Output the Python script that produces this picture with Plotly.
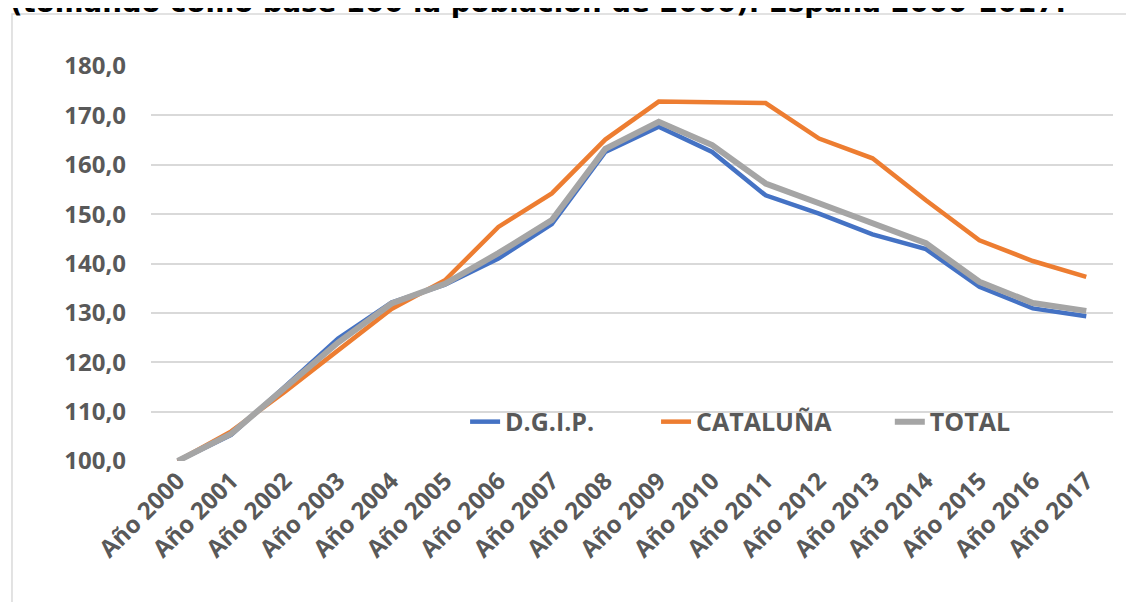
import plotly.graph_objects as go

# Datos (indice base 100 = 2000)
years = ["Año 2000", "Año 2001", "Año 2002", "Año 2003", "Año 2004", "Año 2005",
         "Año 2006", "Año 2007", "Año 2008", "Año 2009", "Año 2010", "Año 2011",
         "Año 2012", "Año 2013", "Año 2014", "Año 2015", "Año 2016", "Año 2017"]

dgip = [100.0, 105.3, 115.0, 124.8, 132.1, 135.7, 141.0, 148.0, 162.6, 167.7,
        162.6, 153.8, 150.1, 145.9, 142.9, 135.3, 130.9, 129.3]
cataluna = [100.0, 106.0, 114.0, 122.3, 130.8, 136.6, 147.4, 154.2, 165.1, 172.8,
            172.7, 172.5, 165.3, 161.3, 152.8, 144.7, 140.5, 137.3]
total = [100.0, 105.5, 114.8, 124.0, 131.9, 135.9, 142.1, 148.8, 163.2, 168.7,
         164.0, 156.2, 152.2, 148.1, 144.1, 136.3, 132.0, 130.4]

series_names = ["D.G.I.P.", "CATALUÑA", "TOTAL"]
series_colors = ["#4472C4", "#ED7D31", "#A5A5A5"]

y_ticks = [100, 110, 120, 130, 140, 150, 160, 170, 180]

title_text = "(tomando como base 100 la población de 2000). España 2000-2017."

txt_color = "#595959"
font_family = "Open Sans"
label_font = dict(family=font_family, size=24, color=txt_color, weight="bold")

fig = go.Figure()

#Each series gets its own legend so the entries can be spaced like the original
legend_ids = ["legend", "legend2", "legend3"]
legend_x = [0.3265, 0.525, 0.768]

for name, vals, col, w, lg in zip(series_names, [dgip, cataluna, total],
                                  series_colors, [4.5, 4.5, 6], legend_ids):
    fig.add_trace(go.Scatter(
        x=years, y=vals, mode="lines", name=name,
        line=dict(color=col, width=w), legend=lg,
    ))

#Outer chart border (cropped at right and bottom in the original)
fig.add_shape(
    type="rect", xref="paper", yref="paper",
    x0=-0.1445, x1=1.03, y0=-0.41, y1=1.1316,
    line=dict(color="#D9D9D9", width=1.5), layer="below",
)

#Title, partly cut off at the top of the picture
fig.add_annotation(
    text="<b>" + title_text + "</b>",
    xref="paper", yref="paper", x=-0.1487, y=1.162,
    xanchor="left", yanchor="middle", showarrow=False,
    font=dict(family="DejaVu Sans", size=27.6, color="#000000"),
)

legend_common = dict(
    orientation="h", y=0.099, xanchor="left", yanchor="middle",
    font=dict(family=font_family, size=25, color=txt_color, weight="bold"),
    bgcolor="rgba(0,0,0,0)",
)

fig.update_layout(
    width=1118, height=594,
    margin=dict(l=143, r=13, t=58, b=141),
    paper_bgcolor="white", plot_bgcolor="white",
    separators=",.",
    showlegend=True,
    legend=dict(x=legend_x[0], **legend_common),
    legend2=dict(x=legend_x[1], **legend_common),
    legend3=dict(x=legend_x[2], **legend_common),
    xaxis=dict(
        type="category", range=[-0.5, 17.5],
        tickangle=-45, showgrid=False, showline=False, ticks="",
        tickfont=label_font,
    ),
    yaxis=dict(
        range=[100, 180], tickvals=y_ticks, tickformat=".1f",
        showgrid=True, gridcolor="#D9D9D9", gridwidth=1.5,
        zeroline=False, showline=False, ticks="", ticklen=0,
        ticklabelstandoff=24,
        tickfont=label_font,
    ),
)

fig.write_html("out.html")
